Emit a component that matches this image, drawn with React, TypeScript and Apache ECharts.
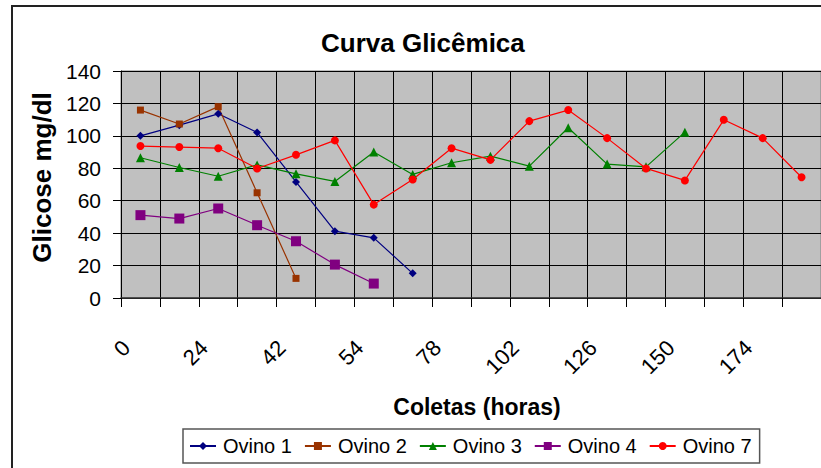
import React, { useEffect, useRef } from "react";
import * as echarts from "echarts";

const categories = ["0", "12", "24", "36", "42", "48", "54", "66", "78", "90", "102", "114", "126", "138", "150", "162", "174", "186"];
const ovino1 = [100, 106.6, 113.6, 102.1, 71.6, 41.2, 37.1, 15.2];
const ovino2 = [115.9, 107.3, 118, 64.9, 12.1];
const ovino3 = [86.5, 80.5, 75.1, 82.1, 76.6, 71.9, 90, 76.2, 83.4, 87.5, 81.3, 105, 82.6, 80.9, 102.3];
const ovino4 = [51.1, 49, 55.2, 44.9, 35, 20.6, 8.9];
const ovino7 = [93.7, 93.1, 92.4, 79.9, 88.3, 97.2, 57.6, 73.1, 92.4, 85.2, 109.1, 115.9, 98.6, 79.9, 72.5, 109.9, 98.6, 74.5];

const seriesNames = ["Ovino 1", "Ovino 2", "Ovino 3", "Ovino 4", "Ovino 7"];
const seriesData = [ovino1, ovino2, ovino3, ovino4, ovino7];
const seriesColors = ["#000080", "#993300", "#008000", "#800080", "#FF0000"];
const seriesSymbols = ["diamond", "rect", "triangle", "rect", "circle"];
const seriesSymbolSizes = [8, 7, 9, 10, 8];

const FONT = "'Liberation Sans', Arial, sans-serif";

export default function App() {
  const ref = useRef<HTMLDivElement>(null);
  useEffect(() => {
    if (!ref.current) return;
    const chart = echarts.init(ref.current, null, { renderer: "svg" });
    chart.setOption({
      animation: false,
      backgroundColor: "#ffffff",
      textStyle: { fontFamily: FONT },
      title: {
        text: "Curva Glicêmica",
        left: 321,
        top: 30,
        padding: 0,
        textStyle: { fontSize: 26, fontWeight: "bold", color: "#000", fontFamily: FONT },
      },
      graphic: [
        {
          type: "rect",
          shape: { x: 12, y: 6, width: 900, height: 600 },
          style: { fill: "none", stroke: "#222", lineWidth: 2 },
          z: -1,
          silent: true,
        },
      ],
      legend: {
        left: 183,
        top: 429,
        padding: [7, 8, 7, 6],
        itemGap: 12,
        itemWidth: 26,
        itemHeight: 10,
        borderColor: "#555",
        borderWidth: 1.5,
        data: seriesNames,
        textStyle: { fontSize: 20, color: "#000", fontFamily: FONT, padding: [0, 0, 0, 2] },
      },
      grid: {
        left: 121,
        top: 71,
        width: 708,
        height: 227,
        show: true,
        backgroundColor: "#C0C0C0",
        borderColor: "#808080",
        borderWidth: 1,
      },
      xAxis: {
        type: "category",
        data: categories,
        boundaryGap: true,
        name: "Coletas (horas)",
        nameLocation: "middle",
        nameGap: 97,
        nameTextStyle: { fontSize: 23, fontWeight: "bold", color: "#000", fontFamily: FONT, padding: [0, 0, 0, 12] },
        axisLine: { show: true, lineStyle: { color: "#333", width: 1.5 } },
        axisTick: { show: true, interval: 0, length: 9, lineStyle: { color: "#000" } },
        axisLabel: {
          interval: 1,
          rotate: 45,
          margin: 32,
          padding: [0, 20, 0, 0],
          fontSize: 22,
          color: "#000",
          fontFamily: FONT,
        },
        splitLine: { show: true, interval: 0, lineStyle: { color: "#000", width: 1 } },
      },
      yAxis: {
        type: "value",
        min: 0,
        max: 140,
        interval: 20,
        name: "Glicose mg/dl",
        nameLocation: "middle",
        nameRotate: 90,
        nameGap: 66,
        nameTextStyle: { fontSize: 26, fontWeight: "bold", color: "#000", fontFamily: FONT, padding: [0, 0, 0, 14] },
        axisLine: { show: true, lineStyle: { color: "#000", width: 1 } },
        axisTick: { show: true, length: 8, lineStyle: { color: "#000" } },
        axisLabel: { margin: 20, fontSize: 21, color: "#000", fontFamily: FONT },
        splitLine: { show: true, lineStyle: { color: "#000", width: 1 } },
      },
      series: seriesNames.map((name, i) => ({
        name,
        type: "line",
        data: seriesData[i],
        color: seriesColors[i],
        symbol: seriesSymbols[i],
        symbolSize: seriesSymbolSizes[i],
        showAllSymbol: true,
        lineStyle: { color: seriesColors[i], width: 1.2 },
        itemStyle: { color: seriesColors[i] },
        connectNulls: false,
      })),
    });
    return () => chart.dispose();
  }, []);
  return (
    <div
      ref={ref}
      style={{ position: "fixed", left: 0, top: 0, width: 821, height: 468 }}
    />
  );
}
